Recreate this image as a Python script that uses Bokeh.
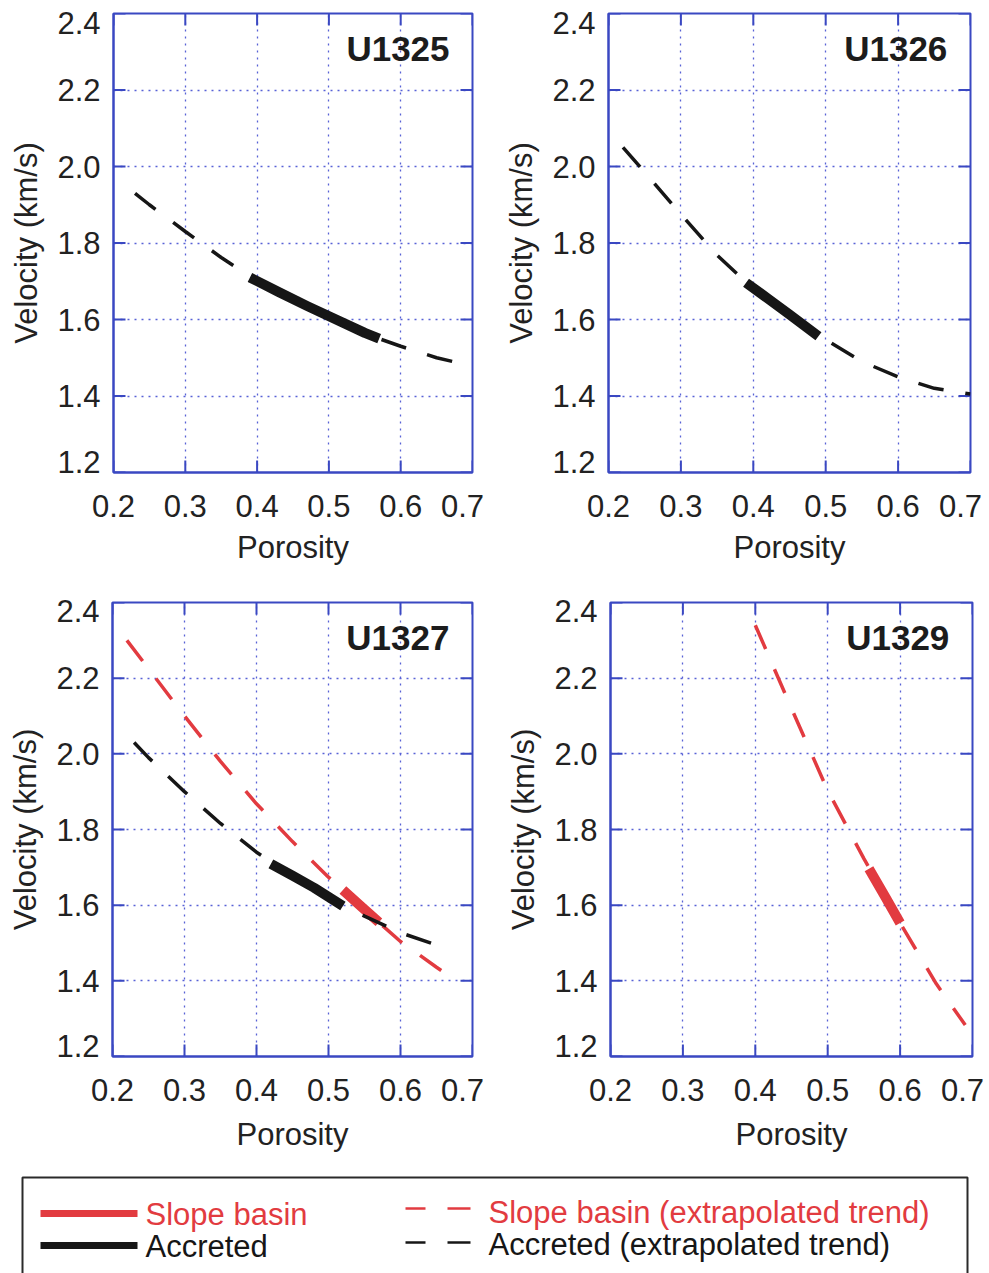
import math
from bokeh.plotting import figure
from bokeh.layouts import column, row
from bokeh.models import Range1d, FixedTicker, Label
from bokeh.embed import file_html
from bokeh.resources import INLINE
from bokeh.core.properties import value

# ---------------- data ----------------
x_ticks = [0.2, 0.3, 0.4, 0.5, 0.6, 0.7]
x_tick_labels = ["0.2", "0.3", "0.4", "0.5", "0.6", "0.7"]
y_ticks = [1.2, 1.4, 1.6, 1.8, 2.0, 2.2, 2.4]
y_tick_labels = ["1.2", "1.4", "1.6", "1.8", "2.0", "2.2", "2.4"]

site_names = ["U1325", "U1326", "U1327", "U1329"]

# U1325 - accreted
u1325_acc_trend_x = [0.23, 0.25, 0.30, 0.35, 0.40, 0.45, 0.50, 0.55, 0.60, 0.65, 0.68]
u1325_acc_trend_y = [1.93, 1.90, 1.83, 1.762, 1.70, 1.654, 1.607, 1.563, 1.53, 1.50, 1.487]
u1325_acc_obs_x = [0.39, 0.43, 0.47, 0.51, 0.55, 0.57]
u1325_acc_obs_y = [1.71, 1.672, 1.635, 1.60, 1.565, 1.55]

# U1326 - accreted
u1326_acc_trend_x = [0.22, 0.25, 0.30, 0.35, 0.40, 0.45, 0.50, 0.55, 0.60, 0.65, 0.70]
u1326_acc_trend_y = [2.05, 1.985, 1.875, 1.768, 1.68, 1.615, 1.547, 1.49, 1.45, 1.42, 1.405]
u1326_acc_obs_x = [0.39, 0.42, 0.45, 0.49]
u1326_acc_obs_y = [1.696, 1.655, 1.613, 1.556]

# U1327 - slope basin and accreted
u1327_slope_trend_x = [0.22, 0.25, 0.30, 0.35, 0.40, 0.45, 0.50, 0.55, 0.60, 0.65, 0.67]
u1327_slope_trend_y = [2.30, 2.225, 2.10, 1.98, 1.868, 1.768, 1.674, 1.588, 1.504, 1.436, 1.41]
u1327_slope_obs_x = [0.52, 0.545, 0.57]
u1327_slope_obs_y = [1.64, 1.597, 1.555]
u1327_acc_trend_x = [0.23, 0.25, 0.30, 0.35, 0.40, 0.45, 0.50, 0.55, 0.60, 0.65, 0.67]
u1327_acc_trend_y = [2.03, 1.99, 1.90, 1.816, 1.74, 1.678, 1.622, 1.571, 1.527, 1.495, 1.484]
u1327_acc_obs_x = [0.42, 0.45, 0.48, 0.52]
u1327_acc_obs_y = [1.709, 1.678, 1.646, 1.598]

# U1329 - slope basin
u1329_slope_trend_x = [0.40, 0.45, 0.50, 0.55, 0.60, 0.65, 0.69]
u1329_slope_trend_y = [2.34, 2.12, 1.903, 1.723, 1.553, 1.392, 1.283]
u1329_slope_obs_x = [0.557, 0.58, 0.60]
u1329_slope_obs_y = [1.696, 1.62, 1.553]

legend_labels = ["Slope basin", "Accreted",
                 "Slope basin (extrapolated trend)", "Accreted (extrapolated trend)"]

# ---------------- style ----------------
RED = "#e23b40"
BLACK = "#161616"
BLUE = "#3a48c2"
GRID = "#5862d6"
TXT = "#222222"
FONT = "Liberation Sans"
TICK_LEN = 12


def make_panel(name, w, h, left, right, top, bottom, xstand, xlab_stand, series):
    p = figure(width=w, height=h, x_range=Range1d(0.2, 0.7), y_range=Range1d(1.2, 2.4),
               output_backend="svg", toolbar_location=None,
               min_border_left=left, min_border_right=right,
               min_border_top=top, min_border_bottom=bottom,
               x_axis_label="Porosity", y_axis_label="Velocity (km/s)")
    p.background_fill_color = "white"
    p.border_fill_color = "white"
    p.outline_line_color = BLUE
    p.outline_line_width = 2
    p.outline_line_alpha = 1.0

    fw = w - left - right
    fh = h - top - bottom
    # label positions: the corner labels are nudged inward as in the original figure
    xlab_pos = list(x_ticks)
    xlab_pos[-1] = x_ticks[-1] - 10 * 0.5 / fw
    ylab_pos = list(y_ticks)
    ylab_pos[0] = y_ticks[0] + 11 * 1.2 / fh
    ylab_pos[-1] = y_ticks[-1] - 9 * 1.2 / fh

    p.xaxis.ticker = FixedTicker(ticks=xlab_pos)
    p.yaxis.ticker = FixedTicker(ticks=ylab_pos)
    p.xaxis.major_label_overrides = dict(zip(xlab_pos, x_tick_labels))
    p.yaxis.major_label_overrides = dict(zip(ylab_pos, y_tick_labels))

    for ax in (p.xaxis[0], p.yaxis[0]):
        ax.axis_line_color = BLUE
        ax.axis_line_width = 2
        ax.major_tick_line_color = None
        ax.major_tick_in = 0
        ax.major_tick_out = 0
        ax.minor_tick_line_color = None
        ax.major_label_text_font = FONT
        ax.major_label_text_font_size = "31px"
        ax.major_label_text_color = TXT
        ax.axis_label_text_font = FONT
        ax.axis_label_text_font_size = "31px"
        ax.axis_label_text_font_style = "normal"
        ax.axis_label_text_color = TXT
    p.xaxis.major_label_standoff = xstand
    p.xaxis.axis_label_standoff = xlab_stand
    p.yaxis.major_label_standoff = 13
    p.yaxis.axis_label_standoff = 10

    p.xgrid.ticker = FixedTicker(ticks=x_ticks)
    p.ygrid.ticker = FixedTicker(ticks=y_ticks)
    for g in (p.xgrid[0], p.ygrid[0]):
        g.grid_line_color = GRID
        g.grid_line_dash = "2 5"
        g.grid_line_width = 1.3
        g.grid_line_alpha = 1.0

    # inward tick marks on all four sides
    nx, ny = len(x_ticks), len(y_ticks)
    tick_kw = dict(length=TICK_LEN, length_units="screen", line_color=BLUE, line_width=2)
    p.ray(x=x_ticks, y=[y_ticks[0]] * nx, angle=math.pi / 2, **tick_kw)
    p.ray(x=x_ticks, y=[y_ticks[-1]] * nx, angle=-math.pi / 2, **tick_kw)
    p.ray(x=[x_ticks[0]] * ny, y=y_ticks, angle=0, **tick_kw)
    p.ray(x=[x_ticks[-1]] * ny, y=y_ticks, angle=math.pi, **tick_kw)

    for (tx, ty, ox, oy, col) in series:
        p.line(tx, ty, line_color=col, line_width=3.5, line_dash="26 22")
        p.line(ox, oy, line_color=col, line_width=10, line_join="round")

    p.add_layout(Label(x=0.668, y=2.308, text=name, text_align="right",
                       text_baseline="middle", text_font=FONT,
                       text_font_size="35px", text_font_style="bold",
                       text_color="#1c1c1c"))
    return p


p1 = make_panel(site_names[0], 495, 580, 113, 23, 13, 108, 22, 10,
                [(u1325_acc_trend_x, u1325_acc_trend_y, u1325_acc_obs_x, u1325_acc_obs_y, BLACK)])
p2 = make_panel(site_names[1], 494, 580, 113, 19, 13, 108, 22, 10,
                [(u1326_acc_trend_x, u1326_acc_trend_y, u1326_acc_obs_x, u1326_acc_obs_y, BLACK)])
p3 = make_panel(site_names[2], 495, 590, 112, 23, 22, 110, 22, 13,
                [(u1327_slope_trend_x, u1327_slope_trend_y, u1327_slope_obs_x, u1327_slope_obs_y, RED),
                 (u1327_acc_trend_x, u1327_acc_trend_y, u1327_acc_obs_x, u1327_acc_obs_y, BLACK)])
p4 = make_panel(site_names[3], 494, 590, 115, 17, 19, 114, 22, 13,
                [(u1329_slope_trend_x, u1329_slope_trend_y, u1329_slope_obs_x, u1329_slope_obs_y, RED)])

# ---------------- legend box ----------------
leg = figure(width=989, height=103, x_range=Range1d(0, 989), y_range=Range1d(103, 0),
             output_backend="svg", toolbar_location=None, min_border=0,
             x_axis_type=None, y_axis_type=None)
leg.grid.visible = False
leg.outline_line_color = None
leg.background_fill_color = "white"
leg.border_fill_color = "white"
leg.quad(left=[22], right=[967], top=[7], bottom=[140], fill_color=None,
         line_color="#2a2a2a", line_width=2)
leg.segment(x0=[40], y0=[43], x1=[137], y1=[43], line_color=RED, line_width=7)
leg.segment(x0=[40], y0=[75], x1=[137], y1=[75], line_color=BLACK, line_width=7)
leg.segment(x0=[405, 447], y0=[38, 38], x1=[425, 470], y1=[38, 38], line_color=RED, line_width=2.5)
leg.segment(x0=[405, 447], y0=[72, 72], x1=[425, 470], y1=[72, 72], line_color=BLACK, line_width=2.5)
leg.text(x=[145, 145], y=[44, 76], text=legend_labels[:2], text_color=[RED, BLACK],
         text_font=value(FONT), text_font_size="31px", text_baseline="middle")
leg.text(x=[488, 488], y=[42, 74], text=legend_labels[2:], text_color=[RED, BLACK],
         text_font=value(FONT), text_font_size="31px", text_baseline="middle")

layout = column(row(p1, p2, spacing=0), row(p3, p4, spacing=0), leg, spacing=0)
open("out.html", "w").write(file_html(layout, INLINE))
